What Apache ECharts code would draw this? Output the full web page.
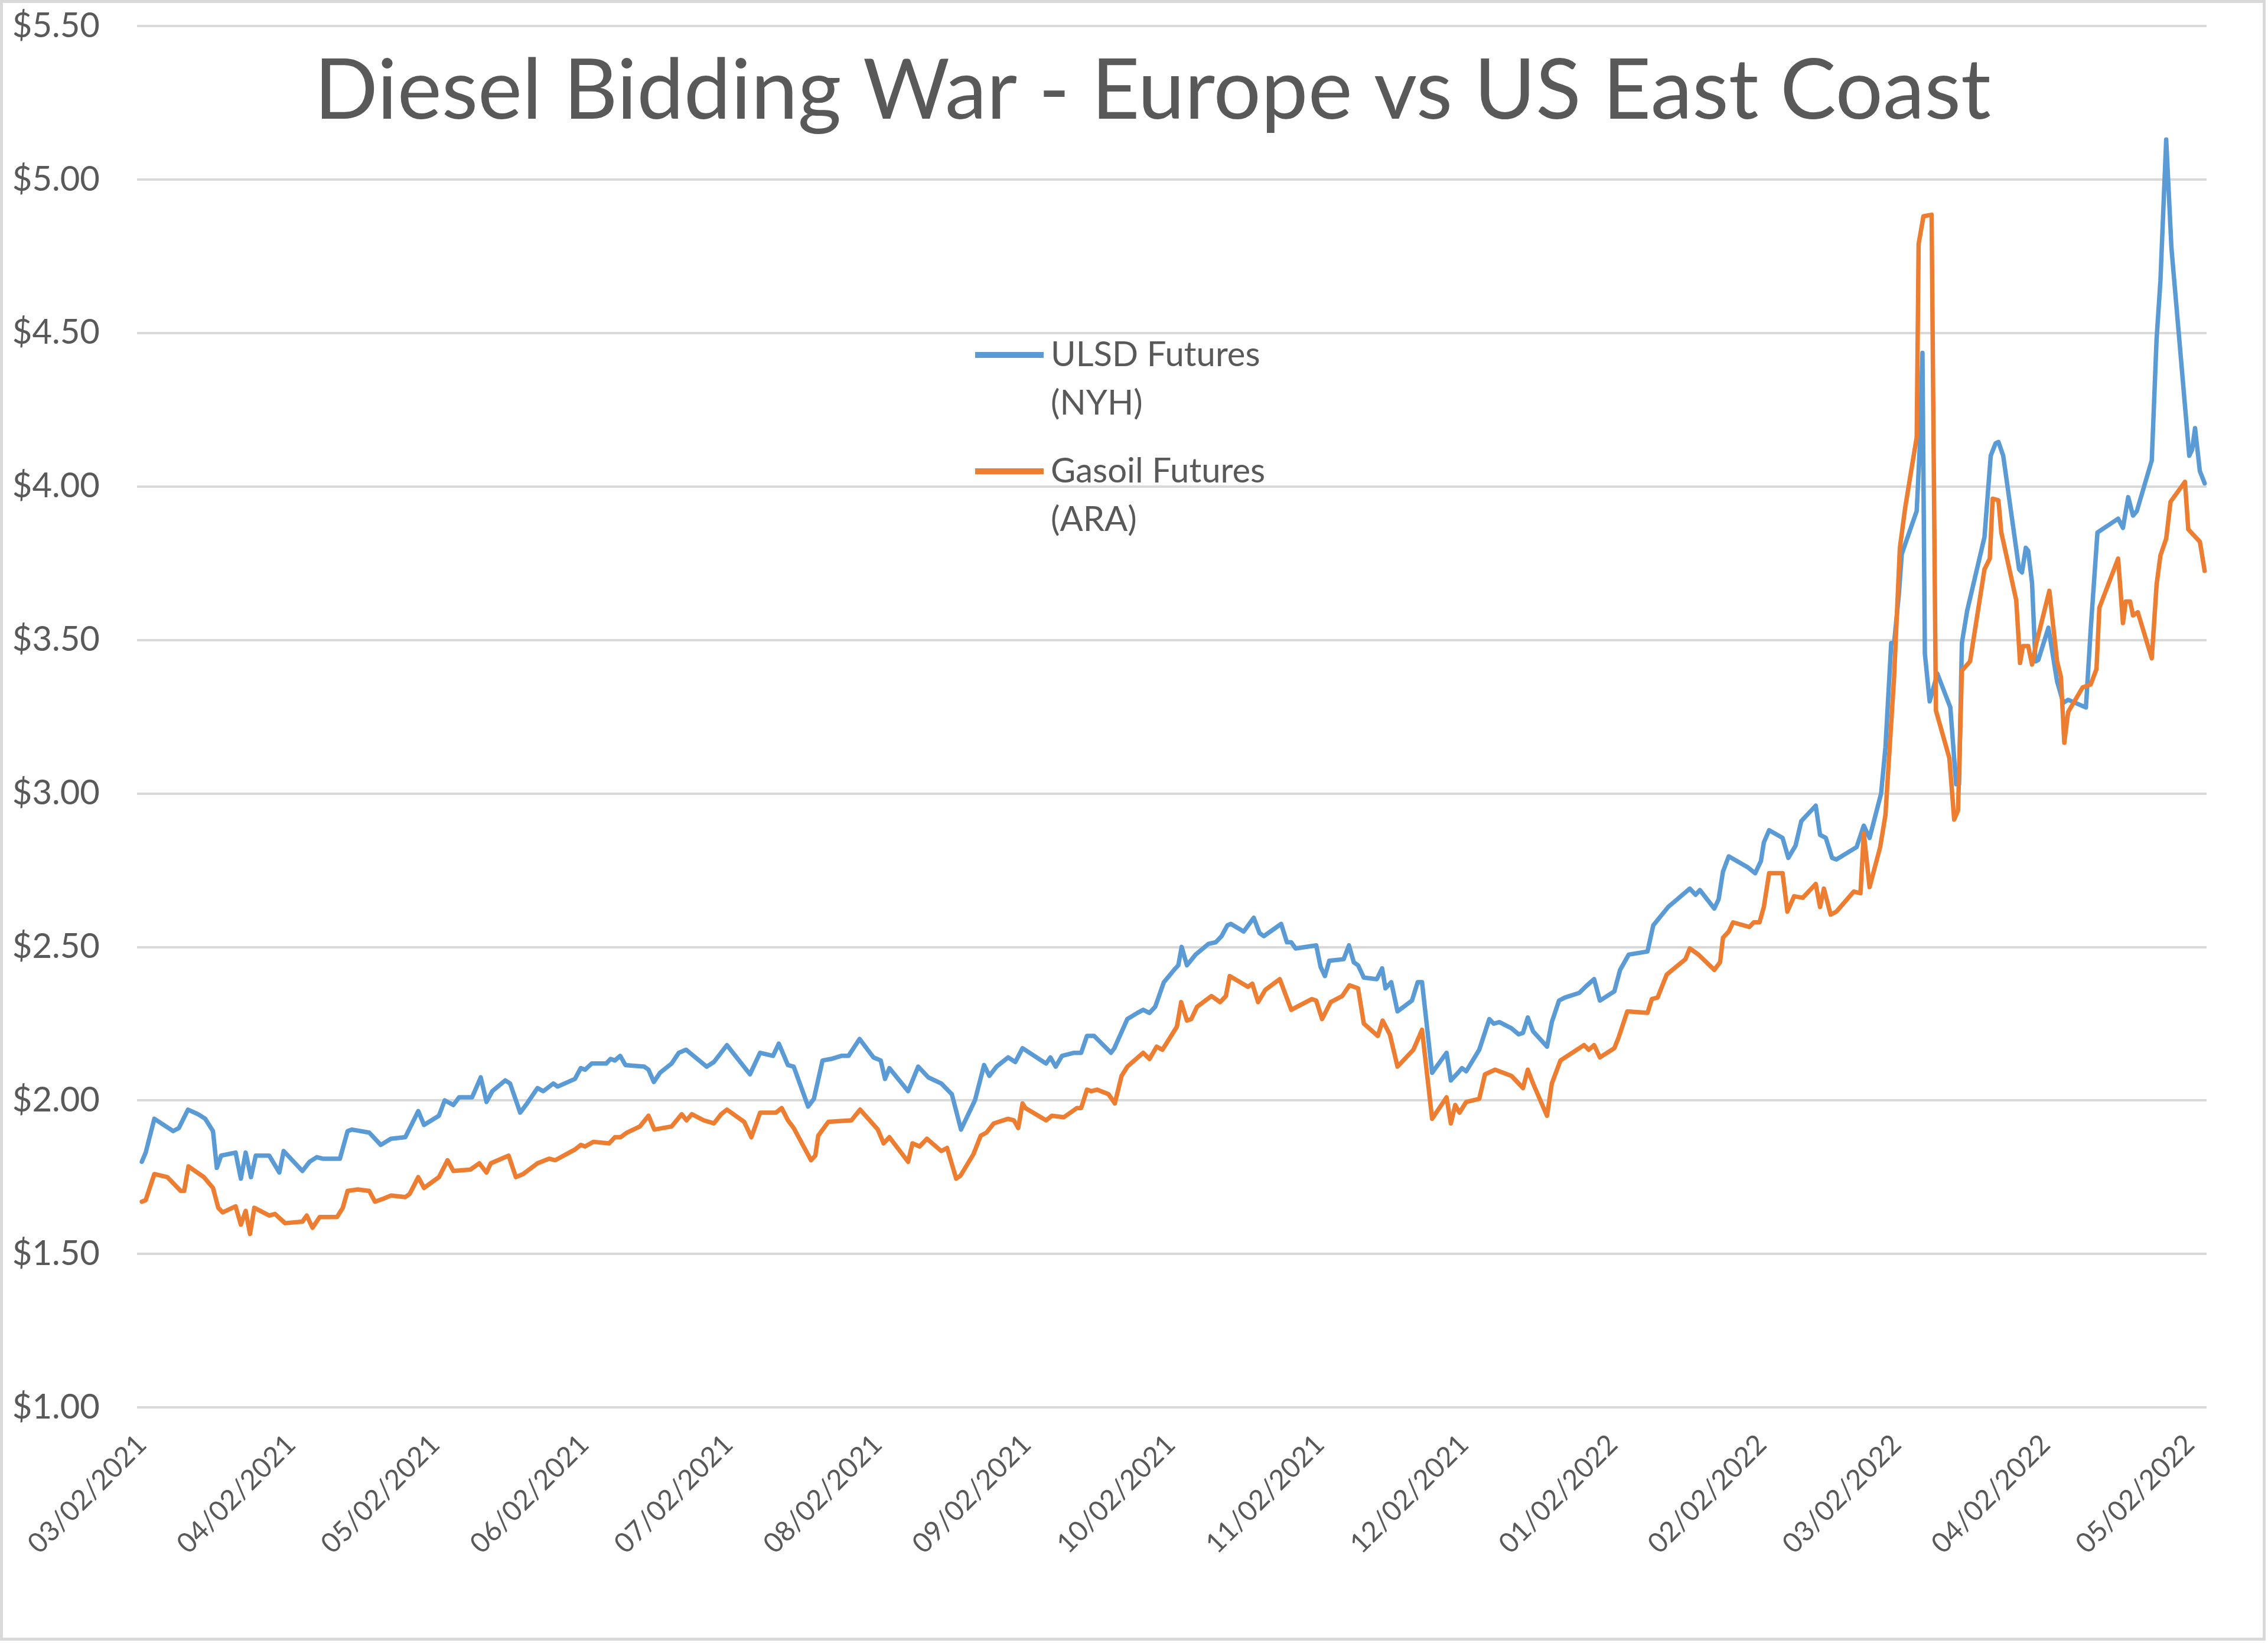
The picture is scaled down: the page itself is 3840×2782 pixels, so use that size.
<!DOCTYPE html>
<html><head><meta charset="utf-8">
<script src="https://cdn.jsdelivr.net/npm/echarts@6/dist/echarts.min.js"></script>
<style>html,body{margin:0;padding:0;background:#fff}#c{width:3840px;height:2782px}</style>
</head><body><div id="c"></div>
<script>
// x positions are days since 03/02/2021
const tickDays = [0,31,61,92,122,153,184,214,245,275,306,337,365,396,426];
const tickLabels = ['03/02/2021','04/02/2021','05/02/2021','06/02/2021','07/02/2021','08/02/2021','09/02/2021','10/02/2021','11/02/2021','12/02/2021','01/02/2022','02/02/2022','03/02/2022','04/02/2022','05/02/2022'];
const seriesNames = ['ULSD Futures\n(NYH)', 'Gasoil Futures\n(ARA)'];

const ulsdDays = [0,0.8,2.6,6.5,7.7,9.6,11.7,13.2,14.8,15.6,16.5,19.5,20.6,21.6,22.7,23.7,26.5,28.6,29.5,33.4,34.9,36.4,37.6,41.2,42.8,43.7,47.3,49.7,51.8,54.8,57.5,58.7,61.8,63.0,64.8,66.0,68.7,70.5,71.7,72.9,75.6,76.6,78.7,79.9,82.3,83.5,85.6,86.5,90.1,91.3,92.2,93.6,96.6,97.5,98.4,99.5,100.6,104.5,105.4,106.5,107.8,110.2,111.7,113.2,117.5,119.0,121.7,126.5,128.6,131.3,132.5,134.4,135.6,138.6,139.8,141.6,143.4,145.5,147.0,149.3,152.2,153.7,154.6,155.5,159.4,161.5,163.6,166.3,168.5,170.4,173.3,175.2,176.3,177.8,180.2,181.7,183.2,188.1,189.0,190.1,191.4,193.9,195.4,196.6,198.1,201.6,202.3,205.0,207.1,208.3,209.6,210.8,212.6,215.0,215.6,216.3,217.4,219.2,221.9,223.4,224.6,225.8,226.5,229.2,231.3,232.5,233.4,237.0,238.2,239.1,240.0,244.3,245.2,246.1,247.0,250.0,251.1,252.1,253.0,254.2,256.9,258.0,258.7,259.9,261.2,264.2,265.4,266.3,268.4,271.4,272.3,273.8,274.6,275.5,278.2,280.3,281.2,282.4,284.9,286.4,287.3,288.3,289.4,292.3,293.3,294.8,296.0,299.0,300.3,302.1,303.3,306.3,307.5,309.3,313.2,314.4,317.5,322.0,323.2,324.1,327.1,328.0,328.9,330.1,334.0,335.6,336.8,337.4,338.5,341.3,342.5,344.0,345.2,348.2,349.1,350.3,351.6,352.5,356.7,358.2,359.4,361.8,362.7,363.9,364.5,365.5,366.1,367.2,369.2,369.8,370.4,370.9,371.9,373.5,376.2,377.4,378.0,378.6,379.7,383.3,384.6,385.6,386.2,387.2,390.5,391.1,391.9,392.4,393.2,393.9,394.5,396.6,398.4,399.7,400.7,404.4,405.4,406.8,411.1,412.1,413.2,414.2,415.0,418.1,419.1,419.9,421.1,422.2,425.9,426.5,427.1,428.1,429.1];
const ulsdPrice = [1.80,1.83,1.94,1.90,1.91,1.97,1.955,1.94,1.90,1.78,1.82,1.83,1.745,1.83,1.75,1.82,1.82,1.765,1.835,1.77,1.80,1.815,1.81,1.81,1.90,1.905,1.895,1.855,1.875,1.88,1.965,1.92,1.95,2.00,1.985,2.01,2.01,2.075,1.995,2.03,2.065,2.055,1.96,1.985,2.04,2.03,2.055,2.045,2.07,2.105,2.10,2.12,2.12,2.135,2.13,2.145,2.115,2.11,2.10,2.06,2.09,2.12,2.155,2.165,2.11,2.125,2.18,2.085,2.155,2.145,2.185,2.115,2.11,1.98,2.005,2.13,2.135,2.145,2.145,2.20,2.14,2.13,2.07,2.105,2.03,2.11,2.075,2.055,2.02,1.905,2.00,2.115,2.08,2.11,2.14,2.125,2.17,2.12,2.14,2.11,2.145,2.155,2.155,2.21,2.21,2.155,2.17,2.265,2.285,2.295,2.285,2.305,2.385,2.43,2.44,2.50,2.44,2.475,2.51,2.515,2.535,2.57,2.575,2.55,2.595,2.545,2.535,2.575,2.515,2.515,2.495,2.505,2.435,2.405,2.455,2.46,2.505,2.45,2.44,2.40,2.395,2.43,2.365,2.385,2.29,2.325,2.385,2.385,2.09,2.155,2.065,2.09,2.105,2.095,2.165,2.265,2.25,2.255,2.235,2.215,2.22,2.27,2.225,2.175,2.255,2.325,2.335,2.35,2.37,2.395,2.325,2.355,2.425,2.475,2.485,2.57,2.63,2.69,2.67,2.685,2.625,2.655,2.745,2.795,2.76,2.74,2.78,2.84,2.88,2.855,2.79,2.83,2.91,2.96,2.865,2.855,2.79,2.785,2.825,2.895,2.855,3.00,3.15,3.49,3.49,3.65,3.78,3.83,3.92,4.115,4.435,3.455,3.30,3.39,3.28,3.03,3.03,3.49,3.595,3.835,4.10,4.14,4.145,4.10,3.73,3.72,3.80,3.79,3.685,3.43,3.435,3.54,3.365,3.295,3.305,3.28,3.535,3.85,3.895,3.865,3.965,3.905,3.92,4.085,4.48,4.67,5.13,4.775,4.10,4.12,4.19,4.05,4.01];

const gasoilDays = [0,0.8,2.6,5.3,8.1,8.8,9.7,12.9,14.8,15.9,16.8,19.5,20.6,21.6,22.5,23.4,26.5,27.7,29.8,33.4,34.3,35.5,37.0,40.6,41.8,42.8,44.9,47.3,48.5,50.3,51.8,54.8,55.7,57.5,58.7,61.8,63.6,64.8,68.4,70.2,71.7,72.6,76.3,77.8,79.3,82.3,84.7,86.0,90.1,91.3,92.2,93.9,97.2,98.4,99.6,100.9,103.6,105.4,106.6,110.2,112.3,113.3,114.4,116.9,119.0,120.5,121.7,125.3,126.8,128.6,131.9,133.1,134.4,135.6,139.2,140.1,140.7,142.8,147.6,149.4,153.1,154.3,155.5,159.4,160.3,161.8,163.3,166.3,167.5,169.4,170.3,173.0,174.5,175.7,177.2,180.2,181.4,182.3,183.2,183.8,188.1,189.3,191.8,194.5,195.4,196.6,197.5,198.7,201.1,202.4,203.8,205.0,208.3,209.6,211.1,212.3,215.3,216.2,217.4,218.3,219.5,222.5,224.3,225.5,226.3,230.1,231.0,232.2,233.7,236.7,239.1,240.9,243.4,244.3,245.5,247.3,249.7,251.2,253.0,254.2,257.1,258.1,259.6,261.2,264.5,266.3,268.4,271.4,272.3,273.2,274.1,275.5,278.2,279.4,281.5,284.9,287.3,288.3,289.4,292.3,293.3,295.1,300.0,301.0,302.1,303.3,306.3,307.2,309.0,313.2,314.1,315.3,317.2,321.1,322.0,323.8,327.1,328.3,328.9,330.1,331.0,334.4,335.3,336.5,337.4,338.5,341.3,342.3,343.7,345.5,348.2,349.1,349.9,351.3,352.5,356.1,357.5,358.2,359.4,361.6,362.7,364.5,365.7,366.8,368.2,369.2,369.6,370.6,372.3,373.2,376.0,377.0,377.8,378.6,380.3,383.3,384.4,385.0,386.2,386.8,389.9,390.7,391.3,392.4,393.2,394.1,396.8,398.4,399.2,399.9,400.7,403.7,405.4,406.6,407.2,411.1,412.1,412.7,413.6,414.2,415.2,418.1,419.1,419.9,421.1,422.0,425.0,425.7,428.1,429.1];
const gasoilPrice = [1.67,1.675,1.76,1.75,1.705,1.705,1.785,1.75,1.715,1.65,1.635,1.655,1.595,1.64,1.565,1.65,1.625,1.63,1.60,1.605,1.625,1.585,1.62,1.62,1.65,1.705,1.71,1.705,1.67,1.68,1.69,1.685,1.695,1.75,1.715,1.75,1.805,1.77,1.775,1.795,1.765,1.795,1.82,1.75,1.76,1.795,1.81,1.805,1.84,1.855,1.85,1.865,1.86,1.88,1.88,1.895,1.915,1.95,1.905,1.915,1.955,1.935,1.955,1.935,1.925,1.955,1.97,1.93,1.88,1.96,1.96,1.975,1.935,1.91,1.805,1.82,1.885,1.93,1.935,1.97,1.905,1.86,1.88,1.80,1.86,1.85,1.875,1.835,1.845,1.745,1.755,1.825,1.885,1.895,1.925,1.94,1.935,1.91,1.99,1.975,1.935,1.95,1.945,1.975,1.975,2.035,2.03,2.035,2.02,1.99,2.08,2.11,2.155,2.135,2.175,2.165,2.24,2.32,2.26,2.265,2.305,2.34,2.32,2.34,2.405,2.37,2.38,2.32,2.36,2.395,2.295,2.31,2.33,2.325,2.265,2.32,2.34,2.375,2.365,2.25,2.21,2.26,2.215,2.11,2.165,2.23,1.94,2.01,1.925,1.985,1.96,1.995,2.005,2.085,2.10,2.08,2.04,2.10,2.055,1.95,2.055,2.13,2.18,2.165,2.18,2.14,2.17,2.205,2.29,2.285,2.33,2.335,2.41,2.46,2.495,2.475,2.425,2.45,2.53,2.55,2.58,2.565,2.58,2.58,2.63,2.74,2.74,2.615,2.665,2.66,2.705,2.63,2.69,2.605,2.615,2.68,2.675,2.87,2.695,2.825,2.93,3.38,3.80,3.93,4.065,4.16,4.79,4.88,4.885,3.27,3.115,2.915,2.945,3.40,3.43,3.73,3.765,3.96,3.955,3.85,3.63,3.425,3.48,3.48,3.42,3.49,3.66,3.43,3.38,3.165,3.265,3.345,3.355,3.405,3.605,3.765,3.555,3.625,3.625,3.58,3.59,3.44,3.68,3.775,3.83,3.95,4.015,3.86,3.82,3.725];

const FONT = 'Lato';
const GREY = '#595959';
const zip = (xs, ys) => xs.map((x, i) => [x, ys[i]]);

const chart = echarts.init(document.getElementById('c'), null, {renderer: 'canvas'});
chart.setOption({
  animation: false,
  backgroundColor: '#ffffff',
  title: {
    text: 'Diesel Bidding War - Europe vs US East Coast',
    left: 532, top: 75, padding: 0,
    textStyle: {fontFamily: FONT, fontSize: 142, fontWeight: 'normal', color: GREY, lineHeight: 160}
  },
  legend: {
    orient: 'vertical', left: 1651, top: 560, padding: 0, itemGap: 33,
    itemWidth: 116, itemHeight: 92,
    icon: 'path://M0,0L116,0L116,10L0,10Z M0,91.9L0.1,91.9L0.1,92L0,92Z',
    textStyle: {fontFamily: FONT, fontSize: 58, lineHeight: 82, color: GREY, padding: [0, 0, 0, 7]},
    data: seriesNames
  },
  grid: {left: 232, right: 104, top: 44, bottom: 399, containLabel: false},
  xAxis: {
    type: 'value', min: -1, max: 429.5,
    axisLine: {show: false}, axisTick: {show: false}, splitLine: {show: false},
    axisLabel: {
      customValues: tickDays,
      formatter: v => { const i = tickDays.indexOf(v); return i >= 0 ? tickLabels[i] : ''; },
      rotate: 45, margin: 55, fontFamily: FONT, fontSize: 47, color: GREY
    }
  },
  yAxis: {
    type: 'value', min: 1, max: 5.5, interval: 0.5,
    axisLine: {show: false}, axisTick: {show: false},
    splitLine: {lineStyle: {color: '#D9D9D9', width: 4}},
    axisLabel: {formatter: v => '$' + v.toFixed(2), margin: 63, fontFamily: FONT, fontSize: 58, color: GREY}
  },
  series: [
    {name: seriesNames[0], type: 'line', data: zip(ulsdDays, ulsdPrice), showSymbol: false, symbol: 'none',
     color: '#5B9BD5', lineStyle: {width: 7.5, color: '#5B9BD5', join: 'round', cap: 'round'}},
    {name: seriesNames[1], type: 'line', data: zip(gasoilDays, gasoilPrice), showSymbol: false, symbol: 'none',
     color: '#ED7D31', lineStyle: {width: 7.5, color: '#ED7D31', join: 'round', cap: 'round'}}
  ],
  graphic: [{type: 'rect', shape: {x: 2.5, y: 2.5, width: 3831, height: 2773}, silent: true,
             style: {fill: 'none', stroke: '#D9D9D9', lineWidth: 5}}]
});
</script></body></html>
